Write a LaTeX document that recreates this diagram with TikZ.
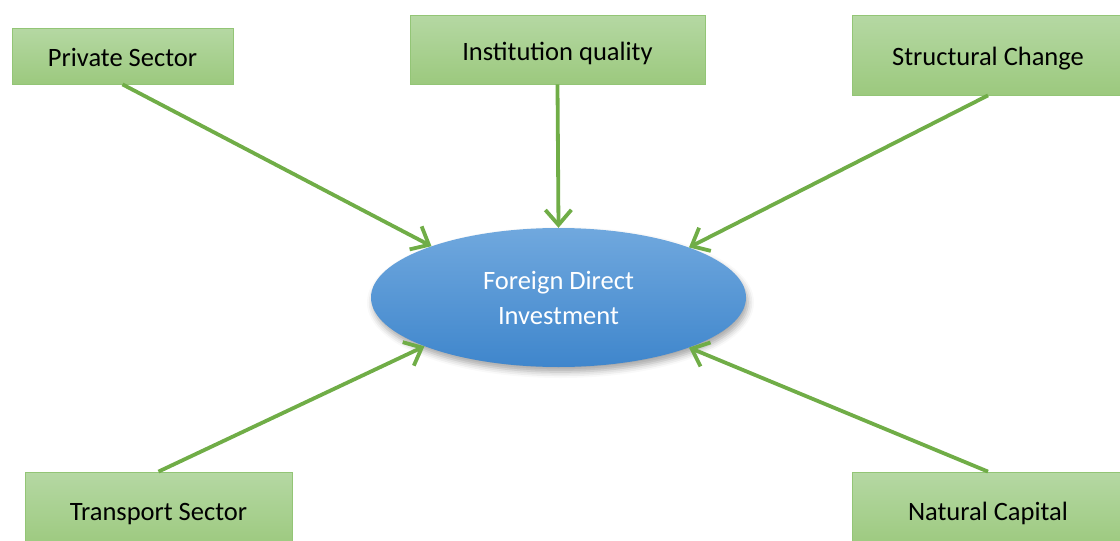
\documentclass[tikz,border=0pt]{standalone}
\usepackage{fontspec}
\setmainfont{Carlito}
\usetikzlibrary{arrows.meta,shapes.geometric,shadows.blur}
\definecolor{boxtop}{HTML}{B5D8A3}
\definecolor{boxbot}{HTML}{9CC97E}
\definecolor{boxline}{HTML}{93C576}
\definecolor{arrowgreen}{HTML}{70AD47}
\definecolor{elltop}{HTML}{70A8DE}
\definecolor{ellbot}{HTML}{3F86CC}
\tikzset{
  factor/.style={rectangle, draw=boxline, line width=0.8pt,
    top color=boxtop, bottom color=boxbot, text=black,
    font=\fontsize{26.5}{31}\selectfont, inner sep=0pt,
    text height=25pt, text depth=4pt},
  flow/.style={draw=arrowgreen, line width=3.8pt,
    -{Straight Barb[length=15pt,width=26pt,line width=3.8pt]}},
  hub/.style={ellipse, minimum width=375, minimum height=139,
    top color=elltop, bottom color=ellbot, text=white,
    align=center, font=\fontsize{26.5}{35}\selectfont,
    blur shadow={shadow xshift=2pt, shadow yshift=-5pt,
      shadow blur radius=6pt, shadow opacity=35}}
}
\begin{document}
\begin{tikzpicture}[x=1pt,y=-1pt]
\useasboundingbox (0,0) rectangle (1120,541);
\clip (0,0) rectangle (1120,541);

\node[hub] (fdi) at (558.5,297.5) {Foreign Direct\\Investment};

\node[factor, minimum width=221, minimum height=56] (priv) at (122.5,56) {Private Sector};
\node[factor, minimum width=295, minimum height=69] (inst) at (557.5,49.5) {Institution quality};
\node[factor, minimum width=272, minimum height=80] (struct) at (988,55) {Structural Change};
\node[factor, minimum width=267, minimum height=76] (trans) at (158.5,510) {Transport Sector};
\node[factor, minimum width=272, minimum height=76] (nat) at (988,510) {Natural Capital};

\draw[flow] (priv.south) -- (fdi.158.9);
\draw[flow] (inst.south) -- (fdi.north);
\draw[flow] (struct.south) -- (fdi.21.1);
\draw[flow] (trans.north) -- (fdi.200.3);
\draw[flow] (nat.north) -- (fdi.339.7);
\end{tikzpicture}
\end{document}
